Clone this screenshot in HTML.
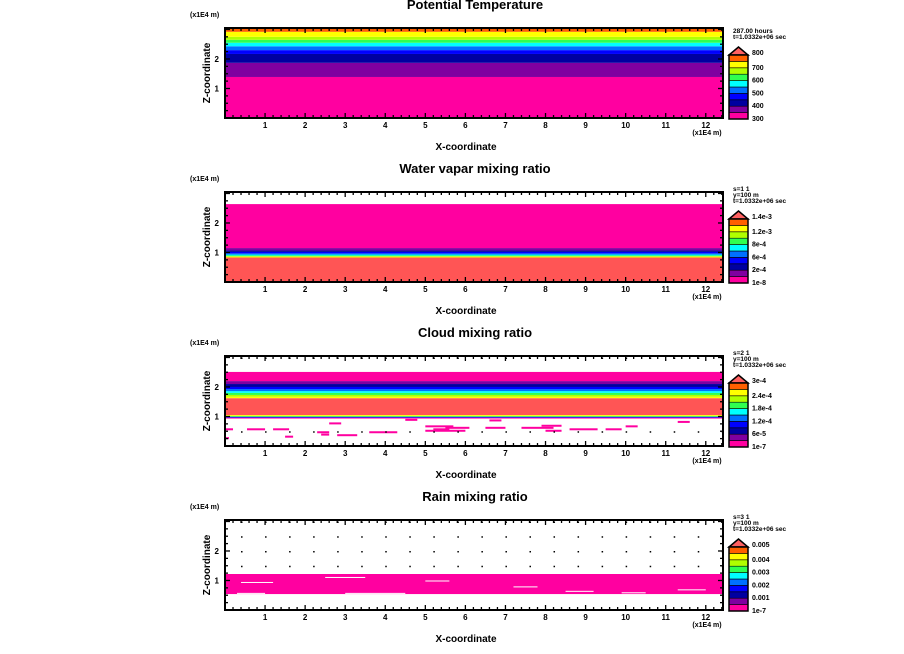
<!DOCTYPE html>
<html><head><meta charset="utf-8">
<style>
body{margin:0;background:#fff;width:904px;height:654px;overflow:hidden}
svg{display:block}
text{font-family:"Liberation Sans",sans-serif;font-weight:bold;fill:#000}
</style></head>
<body>
<svg id="chart" width="904" height="654" viewBox="0 0 904 654" xmlns="http://www.w3.org/2000/svg"></svg>
<script>
// ---- data ----
const panelTitles = ["Potential Temperature","Water vapar mixing ratio","Cloud mixing ratio","Rain mixing ratio"];
const panelInfo = [["287.00 hours","t=1.0332e+06 sec"],["s=1 1","y=100 m","t=1.0332e+06 sec"],["s=2 1","y=100 m","t=1.0332e+06 sec"],["s=3 1","y=100 m","t=1.0332e+06 sec"]];
const legendLabels = [
  ["800","700","600","500","400","300"],
  ["1.4e-3","1.2e-3","8e-4","6e-4","2e-4","1e-8"],
  ["3e-4","2.4e-4","1.8e-4","1.2e-4","6e-5","1e-7"],
  ["0.005","0.004","0.003","0.002","0.001","1e-7"]
];
const paletteColors = ["#ff00a0","#8000a0","#0000a0","#0000ff","#0070ff","#00ffff","#30ff50","#b0ff00","#ffff00","#ff6000"];
const overColor = "#ff6060";
const xTicks = [1,2,3,4,5,6,7,8,9,10,11,12];
const zTicks = [1,2];
// bands: [zBottom, zTop, color]
const bands1 = [[0,1.39,"#ff00a0"],[1.39,1.87,"#8000a0"],[1.87,2.17,"#0000a0"],[2.17,2.3,"#0000ff"],[2.3,2.43,"#0070ff"],[2.43,2.55,"#00ffff"],[2.55,2.65,"#30ff50"],[2.65,2.75,"#b0ff00"],[2.75,2.92,"#ffff00"],[2.92,3.05,"#ff6000"]];
const bands2 = [[0,0.83,"#ff5555"],[0.83,0.87,"#ffff00"],[0.87,0.9,"#30ff50"],[0.9,0.93,"#00ffff"],[0.93,0.97,"#0070ff"],[0.97,1.02,"#0000ff"],[1.02,1.07,"#0000a0"],[1.07,1.15,"#8000a0"],[1.15,2.64,"#ff00a0"]];
const bands3 = [[0.93,0.96,"#ff00a0"],[0.96,0.99,"#0000ff"],[0.99,1.02,"#30ff50"],[1.02,1.05,"#ffff00"],[1.05,1.62,"#ff5555"],[1.62,1.67,"#ffff00"],[1.67,1.73,"#b0ff00"],[1.73,1.8,"#30ff50"],[1.8,1.86,"#00ffff"],[1.86,1.93,"#0070ff"],[1.93,2.0,"#0000ff"],[2.0,2.1,"#0000a0"],[2.1,2.2,"#8000a0"],[2.2,2.51,"#ff00a0"]];
const bands4 = [[0.54,1.22,"#ff00a0"]];
const allBands = [bands1,bands2,bands3,bands4];
// cloud specks: [x0, x1, z]
const specks3 = [[0.0,0.2,0.6],[0.55,1.0,0.6],[1.2,1.6,0.6],[0.0,0.1,0.3],[1.5,1.7,0.35],[2.6,2.9,0.8],[2.3,2.6,0.5],[2.8,3.3,0.4],[3.6,4.3,0.5],[5.0,5.7,0.7],[5.2,5.6,0.6],[5.0,6.0,0.55],[5.5,6.1,0.65],[6.5,7.0,0.65],[7.4,8.2,0.65],[8.0,8.4,0.55],[8.6,9.3,0.6],[9.5,9.9,0.6],[7.9,8.4,0.72],[6.6,6.9,0.9],[4.5,4.8,0.92],[2.4,2.6,0.42],[10.0,10.3,0.7],[11.3,11.6,0.85]];
// rain gaps (white) inside band: [x0,x1,z]
const gaps4 = [[0.4,1.2,0.95],[2.5,3.5,1.12],[5.0,5.6,1.0],[7.2,7.8,0.8],[8.5,9.2,0.65],[9.9,10.5,0.6],[11.3,12.0,0.7],[0.3,1.0,0.58],[3.0,4.5,0.58]];
const xMax = 12.43, zMax = 3.05;
// ---- layout ----
const svg = document.getElementById('chart');
const NS = "http://www.w3.org/2000/svg";
const L = 225, R = 723, PH = 90, tops = [28,192,356,520];
function mk(tag, attrs, parent){const e=document.createElementNS(NS,tag);for(const k in attrs)e.setAttribute(k,attrs[k]);(parent||svg).appendChild(e);return e;}
function xs(v){return L + v/xMax*(R-L);}
tops.forEach((T,pi)=>{
  const B = T+PH;
  const zs = v => B - v/zMax*PH;
  const g = mk('g',{});
  
  
  allBands[pi].forEach((b,i)=>{
    const r = mk('rect',{x:L,y:zs(b[1]),width:R-L,height:zs(b[0])-zs(b[1]),fill:b[2]},g);
    
    
  });
  if(pi===2){ specks3.forEach(s=>{const r=mk('rect',{x:xs(s[0]),y:zs(s[2]),width:xs(s[1])-xs(s[0]),height:2,fill:'#ff00a0'},g);
    
    });}
  if(pi===3){ gaps4.forEach(s=>{const r=mk('rect',{x:xs(s[0]),y:zs(s[2]),width:xs(s[1])-xs(s[0]),height:1,fill:'#fff'},g);
    
    });}
  if(pi>=2){
    for(let x=0.4;x<xMax;x+=0.6){for(let z=0.5;z<zMax;z+=0.5){
      const y=zs(z); let inBand=allBands[pi].some(b=>z>=b[0]-0.05&&z<=b[1]+0.05);
      if(!inBand) mk('rect',{x:xs(x),y:y,width:1.5,height:1.5,fill:'#000'},g);
    }}
  }
  const fr = mk('rect',{x:L,y:T,width:R-L,height:PH,fill:'none',stroke:'#000','stroke-width':2},g);
  
  
  for(let x=0.2;x<xMax;x+=0.2){const isM=Math.abs(x-Math.round(x))<0.01;const h=isM?5:3;
    mk('line',{x1:xs(x),x2:xs(x),y1:B,y2:B-h,stroke:'#000','stroke-width':1.3},g);
    mk('line',{x1:xs(x),x2:xs(x),y1:T,y2:T+h,stroke:'#000','stroke-width':1.3},g);}
  for(let z=0.25;z<zMax;z+=0.25){const isM=Math.abs(z-Math.round(z))<0.01;const h=isM?5:3;
    mk('line',{x1:L,x2:L+h,y1:zs(z),y2:zs(z),stroke:'#000','stroke-width':1.3},g);
    mk('line',{x1:R,x2:R-h,y1:zs(z),y2:zs(z),stroke:'#000','stroke-width':1.3},g);}
  xTicks.forEach(v=>{const t=mk('text',{x:xs(v),y:B+10,'font-size':8,'text-anchor':'middle'},g);t.textContent=v;
    
    });
  zTicks.forEach(v=>{const t=mk('text',{x:L-6,y:zs(v)+3,'font-size':8,'text-anchor':'end'},g);t.textContent=v;
    
    });
  let t=mk('text',{x:475,y:T-19,'font-size':13,'text-anchor':'middle'},g);t.textContent=panelTitles[pi];
  
  
  t=mk('text',{x:466,y:B+32,'font-size':10,'text-anchor':'middle'},g);t.textContent="X-coordinate";
  
  
  t=mk('text',{x:707,y:B+17,'font-size':7,'text-anchor':'middle'},g);t.textContent="(x1E4 m)";
  
  
  t=mk('text',{x:190,y:T-11,'font-size':7},g);t.textContent="(x1E4 m)";
  
  
  t=mk('text',{x:0,y:0,'font-size':10,'text-anchor':'middle',transform:`translate(210,${T+45}) rotate(-90)`},g);t.textContent="Z-coordinate";
  
  
  const lg = mk('g',{},g);
  
  
  panelInfo[pi].forEach((s,i)=>{const tt=mk('text',{x:733,y:T+(panelInfo[pi].length===2?5:-1)+i*6,'font-size':6.5,'font-weight':'normal'},lg);tt.textContent=s;});
  const lx=729, lw=19, ltop=T+27, bh=6.4;
  mk('polygon',{points:`${lx},${ltop} ${lx+lw/2},${ltop-8} ${lx+lw},${ltop}`,fill:overColor,stroke:'#000','stroke-width':1.5},lg);
  for(let i=0;i<10;i++){
    mk('rect',{x:lx,y:ltop+(9-i)*bh,width:lw,height:bh,fill:paletteColors[i],stroke:'#000','stroke-width':0.6},lg);
  }
  mk('rect',{x:lx,y:ltop,width:lw,height:bh*10,fill:'none',stroke:'#000','stroke-width':1.5},lg);
  legendLabels[pi].forEach((s,i)=>{const tt=mk('text',{x:752,y:ltop+i*bh*2-(i===0?2:0)+2,'font-size':7},lg);tt.textContent=s;
    
    });
});
</script>
</body></html>
